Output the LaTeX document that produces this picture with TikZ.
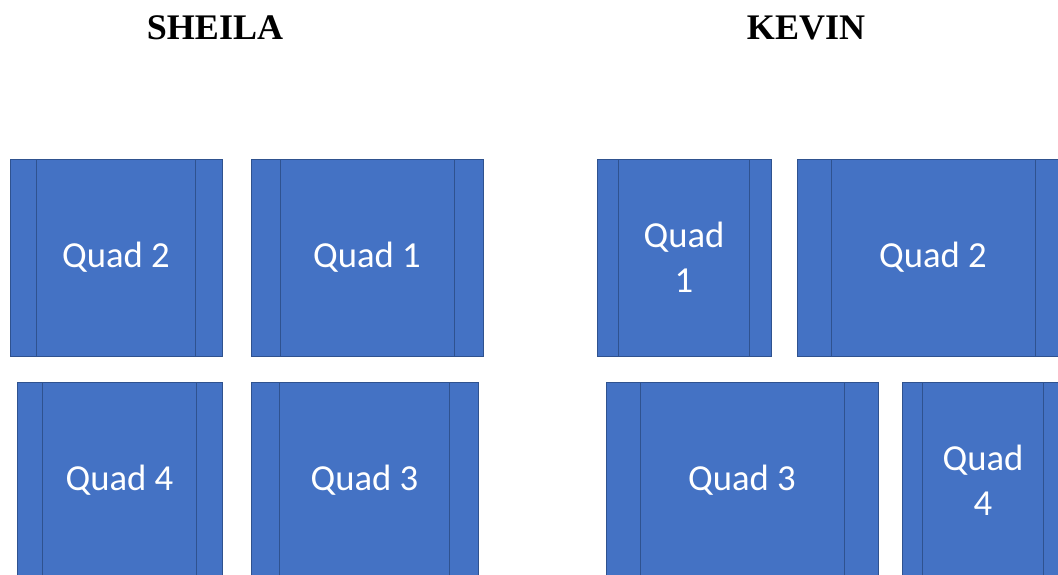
\documentclass[tikz,border=0pt]{standalone}
\usepackage{fontspec}
\setmainfont{Liberation Serif}
\newfontfamily\quadfont{Carlito}
\usepackage{tikz}
\usetikzlibrary{calc}
\definecolor{quadfill}{HTML}{4472C4}
\definecolor{quadedge}{HTML}{2F528F}

\begin{document}
\begin{tikzpicture}[
  x=0.75pt,y=-0.75pt,
  title/.style={font=\fontsize{27}{32}\selectfont\bfseries,anchor=base,inner sep=0pt},
  qbox/.style={rectangle,draw=quadedge,line width=0.65pt,fill=quadfill,
    minimum width=#1*0.75pt,minimum height=147.75pt,inner sep=0pt,
    text=white,align=center,font=\quadfont\fontsize{27.5}{34}\selectfont,
    path picture={
      \draw[qline] ($(path picture bounding box.north west)!0.125!(path picture bounding box.north east)$)
        -- ($(path picture bounding box.south west)!0.125!(path picture bounding box.south east)$);
      \draw[qline] ($(path picture bounding box.north west)!0.875!(path picture bounding box.north east)$)
        -- ($(path picture bounding box.south west)!0.875!(path picture bounding box.south east)$);
    }},
  qline/.style={draw=quadedge,line width=0.65pt}
]
\useasboundingbox (0,0) rectangle (1058,575);
\clip (0,0) rectangle (1058,575);

% titles
\node[title] (sheila) at (215,39) {SHEILA};
\node[title] (kevin) at (806,39) {KEVIN};

% sheila
\node[qbox=212] (sq2) at (116,257.5) {Quad 2};
\node[qbox=232] (sq1) at (367,257.5) {Quad 1};
\node[qbox=205] (sq4) at (119.5,480.5) {Quad 4};
\node[qbox=227] (sq3) at (364.5,480.5) {Quad 3};

% kevin
\node[qbox=174] (kq1) at (684,257.5) {Quad\\1};
\node[qbox=272] (kq2) at (933,257.5) {Quad 2};
\node[qbox=272] (kq3) at (742,480.5) {Quad 3};
\node[qbox=162] (kq4) at (983,480.5) {Quad\\4};
\end{tikzpicture}
\end{document}
